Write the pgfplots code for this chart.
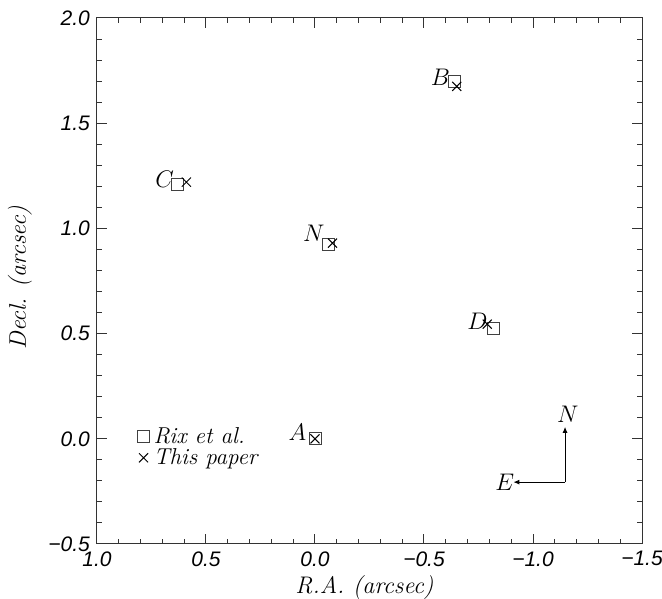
\documentclass[border=0pt]{standalone}
\usepackage{fontspec}
\usepackage{pgfplots}
\pgfplotsset{compat=1.18}
\usetikzlibrary{arrows.meta,calc}
\newfontfamily\tickfont{Liberation Sans}

\begin{document}
\begin{tikzpicture}
\begin{axis}[
  name=ax,
  width=272.5pt, height=263pt, scale only axis,
  xmin=-1.5, xmax=1.0, ymin=-0.5, ymax=2.0,
  x dir=reverse,
  axis line style={black!80, line width=0.5pt},
  xtick={-1.5,-1.0,-0.5,0,0.5,1.0},
  xticklabels={−1.5,−1.0,−0.5,0.0,0.5,1.0},
  ytick={-0.5,0,0.5,1.0,1.5,2.0},
  yticklabels={−0.5,0.0,0.5,1.0,1.5,2.0},
  ticklabel style={font=\fontsize{10.5}{12}\tickfont\itshape},
  xticklabel style={yshift=-2.5pt, inner ysep=1pt},
  minor tick num=4,
  major tick length=5pt, minor tick length=2.5pt,
  tick style={black!80, line width=0.5pt},
  tick align=inside,
  xlabel={R.A. (arcsec)},
  ylabel={Decl. (arcsec)},
  label style={font=\fontsize{12}{14}\selectfont\itshape},
  xlabel style={at={(rel axis cs:0.5,0)}, anchor=center, yshift=-22pt, xshift=-2.5pt, inner ysep=1pt},
  ylabel style={at={(rel axis cs:0,0.5)}, anchor=center, yshift=38.5pt, xshift=1.5pt},
  legend style={at={(axis cs:0.825,0.085)}, anchor=north west, draw=none,
    fill=none, font=\fontsize{11.5}{13}\selectfont\itshape, row sep=-3pt, inner sep=1pt},
  legend cell align=left,
  legend image code/.code={\draw[#1] (0.12cm,0cm) plot coordinates {(0.12cm,0cm)};},
]
% Rix et al. positions
\addplot[only marks, mark=square, mark size=3pt, black!75, line width=0.45pt] coordinates
  {(0.0,0.0) (-0.064,0.925) (-0.64,1.70) (0.63,1.21) (-0.82,0.525)};
\addlegendentry{Rix et al.}
% this paper
\addplot[only marks, mark=x, mark size=3.2pt, black, line width=0.5pt] coordinates
  {(0.0,0.0) (-0.08,0.93) (-0.65,1.675) (0.59,1.22) (-0.79,0.545)};
\addlegendentry{This paper}

\node[font=\large] at (axis cs:0.08,0.03) {$A$};
\node[font=\large] at (axis cs:-0.575,1.72) {$B$};
\node[font=\large] at (axis cs:0.69,1.235) {$C$};
\node[font=\large] at (axis cs:0.005,0.975) {$N$};
\node[font=\large] at (axis cs:-0.745,0.56) {$D$};

% compass
\draw[black, line width=0.5pt, -{Latex[length=3pt,width=2.5pt]}]
  (axis cs:-1.147,-0.206) -- (axis cs:-1.147,0.057);
\draw[black, line width=0.5pt, -{Latex[length=3pt,width=2.5pt]}]
  (axis cs:-1.147,-0.206) -- (axis cs:-0.91,-0.206);
\node[font=\large] at (axis cs:-1.16,0.115) {$N$};
\node[font=\large] at (axis cs:-0.87,-0.206) {$E$};
\end{axis}
\pgfresetboundingbox
\path ($(ax.south west)+(-48.5pt,-27pt)$) rectangle ($(ax.north east)+(10pt,9pt)$);
\end{tikzpicture}
\end{document}
